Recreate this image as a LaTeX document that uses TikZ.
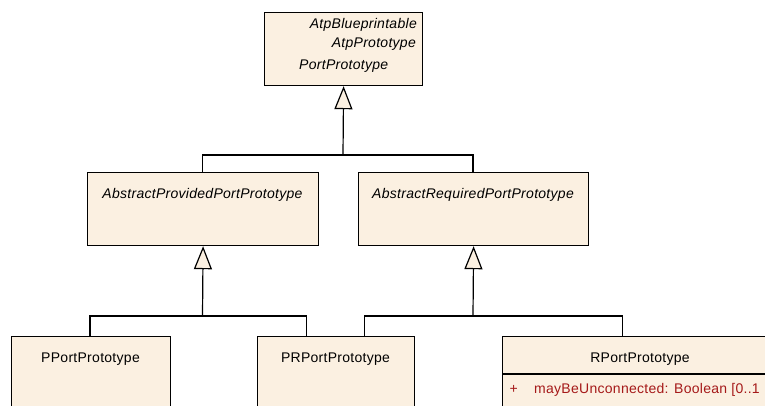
\documentclass[tikz,border=0pt]{standalone}
\usepackage{fontspec}
\setmainfont{Liberation Sans}[LetterSpace=2]
\usetikzlibrary{arrows.meta}
\definecolor{boxfill}{RGB}{251,240,225}
\definecolor{attrred}{RGB}{165,25,25}
\tikzset{
  umlbox/.style={draw=black, line width=1.2pt, fill=boxfill, anchor=north west, inner sep=0pt},
  lbl/.style={font=\fontsize{14}{16}\selectfont, inner sep=0pt, anchor=base},
  ilbl/.style={font=\fontsize{14}{16}\selectfont\itshape, inner sep=0pt, anchor=base},
  conn/.style={draw=black, line width=1.2pt},
  gen/.style={conn, -{Triangle[length=23pt,width=18pt,fill=boxfill,line width=1.2pt]}}
}
\begin{document}
\begin{tikzpicture}[x=1pt,y=-1pt]
\useasboundingbox (0,0) rectangle (765,405);
\clip (0,0) rectangle (765,405);
% boxes
\node[umlbox, minimum width=158pt, minimum height=73pt] (top) at (264,12) {};
\node[umlbox, minimum width=231pt, minimum height=73pt] (prov) at (87,172) {};
\node[umlbox, minimum width=230pt, minimum height=73pt] (req) at (358,172) {};
\node[umlbox, minimum width=159pt, minimum height=90pt] (pport) at (11,336) {};
\node[umlbox, minimum width=157pt, minimum height=90pt] (prport) at (257,336) {};
\node[umlbox, minimum width=278pt, minimum height=90pt] (rport) at (502,336) {};
\coordinate (sepL) at (502,374);
\coordinate (sepR) at (780,374);
\draw[conn] (sepL) -- (sepR);
% texts
\node[ilbl, anchor=base east] (t1) at (417,28) {AtpBlueprintable};
\node[ilbl, anchor=base east] (t2) at (416,47) {AtpPrototype};
\node[ilbl, anchor=base west] (t3) at (299,69) {PortPrototype};
\node[ilbl] (tprov) at (202.5,198) {AbstractProvidedPortPrototype};
\node[ilbl] (treq) at (473,198) {AbstractRequiredPortPrototype};
\node[lbl] (tp) at (90.5,362) {PPortPrototype};
\node[lbl] (tpr) at (335.5,362) {PRPortPrototype};
\node[lbl] (tr) at (640,362) {RPortPrototype};
\node[lbl, text=attrred] (plus) at (513.7,393) {+};
\node[lbl, text=attrred, anchor=base west] (attr) at (534,393) {mayBeUnconnected: Boolean [0..1};
% connectors
\coordinate (j0) at (343,155);
\coordinate (provT) at (202.5,172);
\coordinate (reqT) at (473,172);
\draw[conn] (provT) |- (j0);
\draw[conn] (reqT) |- (j0);
\draw[gen] (j0) -- (top.south);
\coordinate (j1) at (202.5,316);
\coordinate (pportT) at (90,336);
\coordinate (prportL) at (306.7,336);
\draw[conn] (pportT) |- (j1);
\draw[conn] (prportL) |- (j1);
\draw[gen] (j1) -- (prov.south);
\coordinate (j2) at (473,316);
\coordinate (prportR) at (364.7,336);
\coordinate (rportT) at (622.7,336);
\draw[conn] (prportR) |- (j2);
\draw[conn] (rportT) |- (j2);
\draw[gen] (j2) -- (req.south);
\end{tikzpicture}
\end{document}
